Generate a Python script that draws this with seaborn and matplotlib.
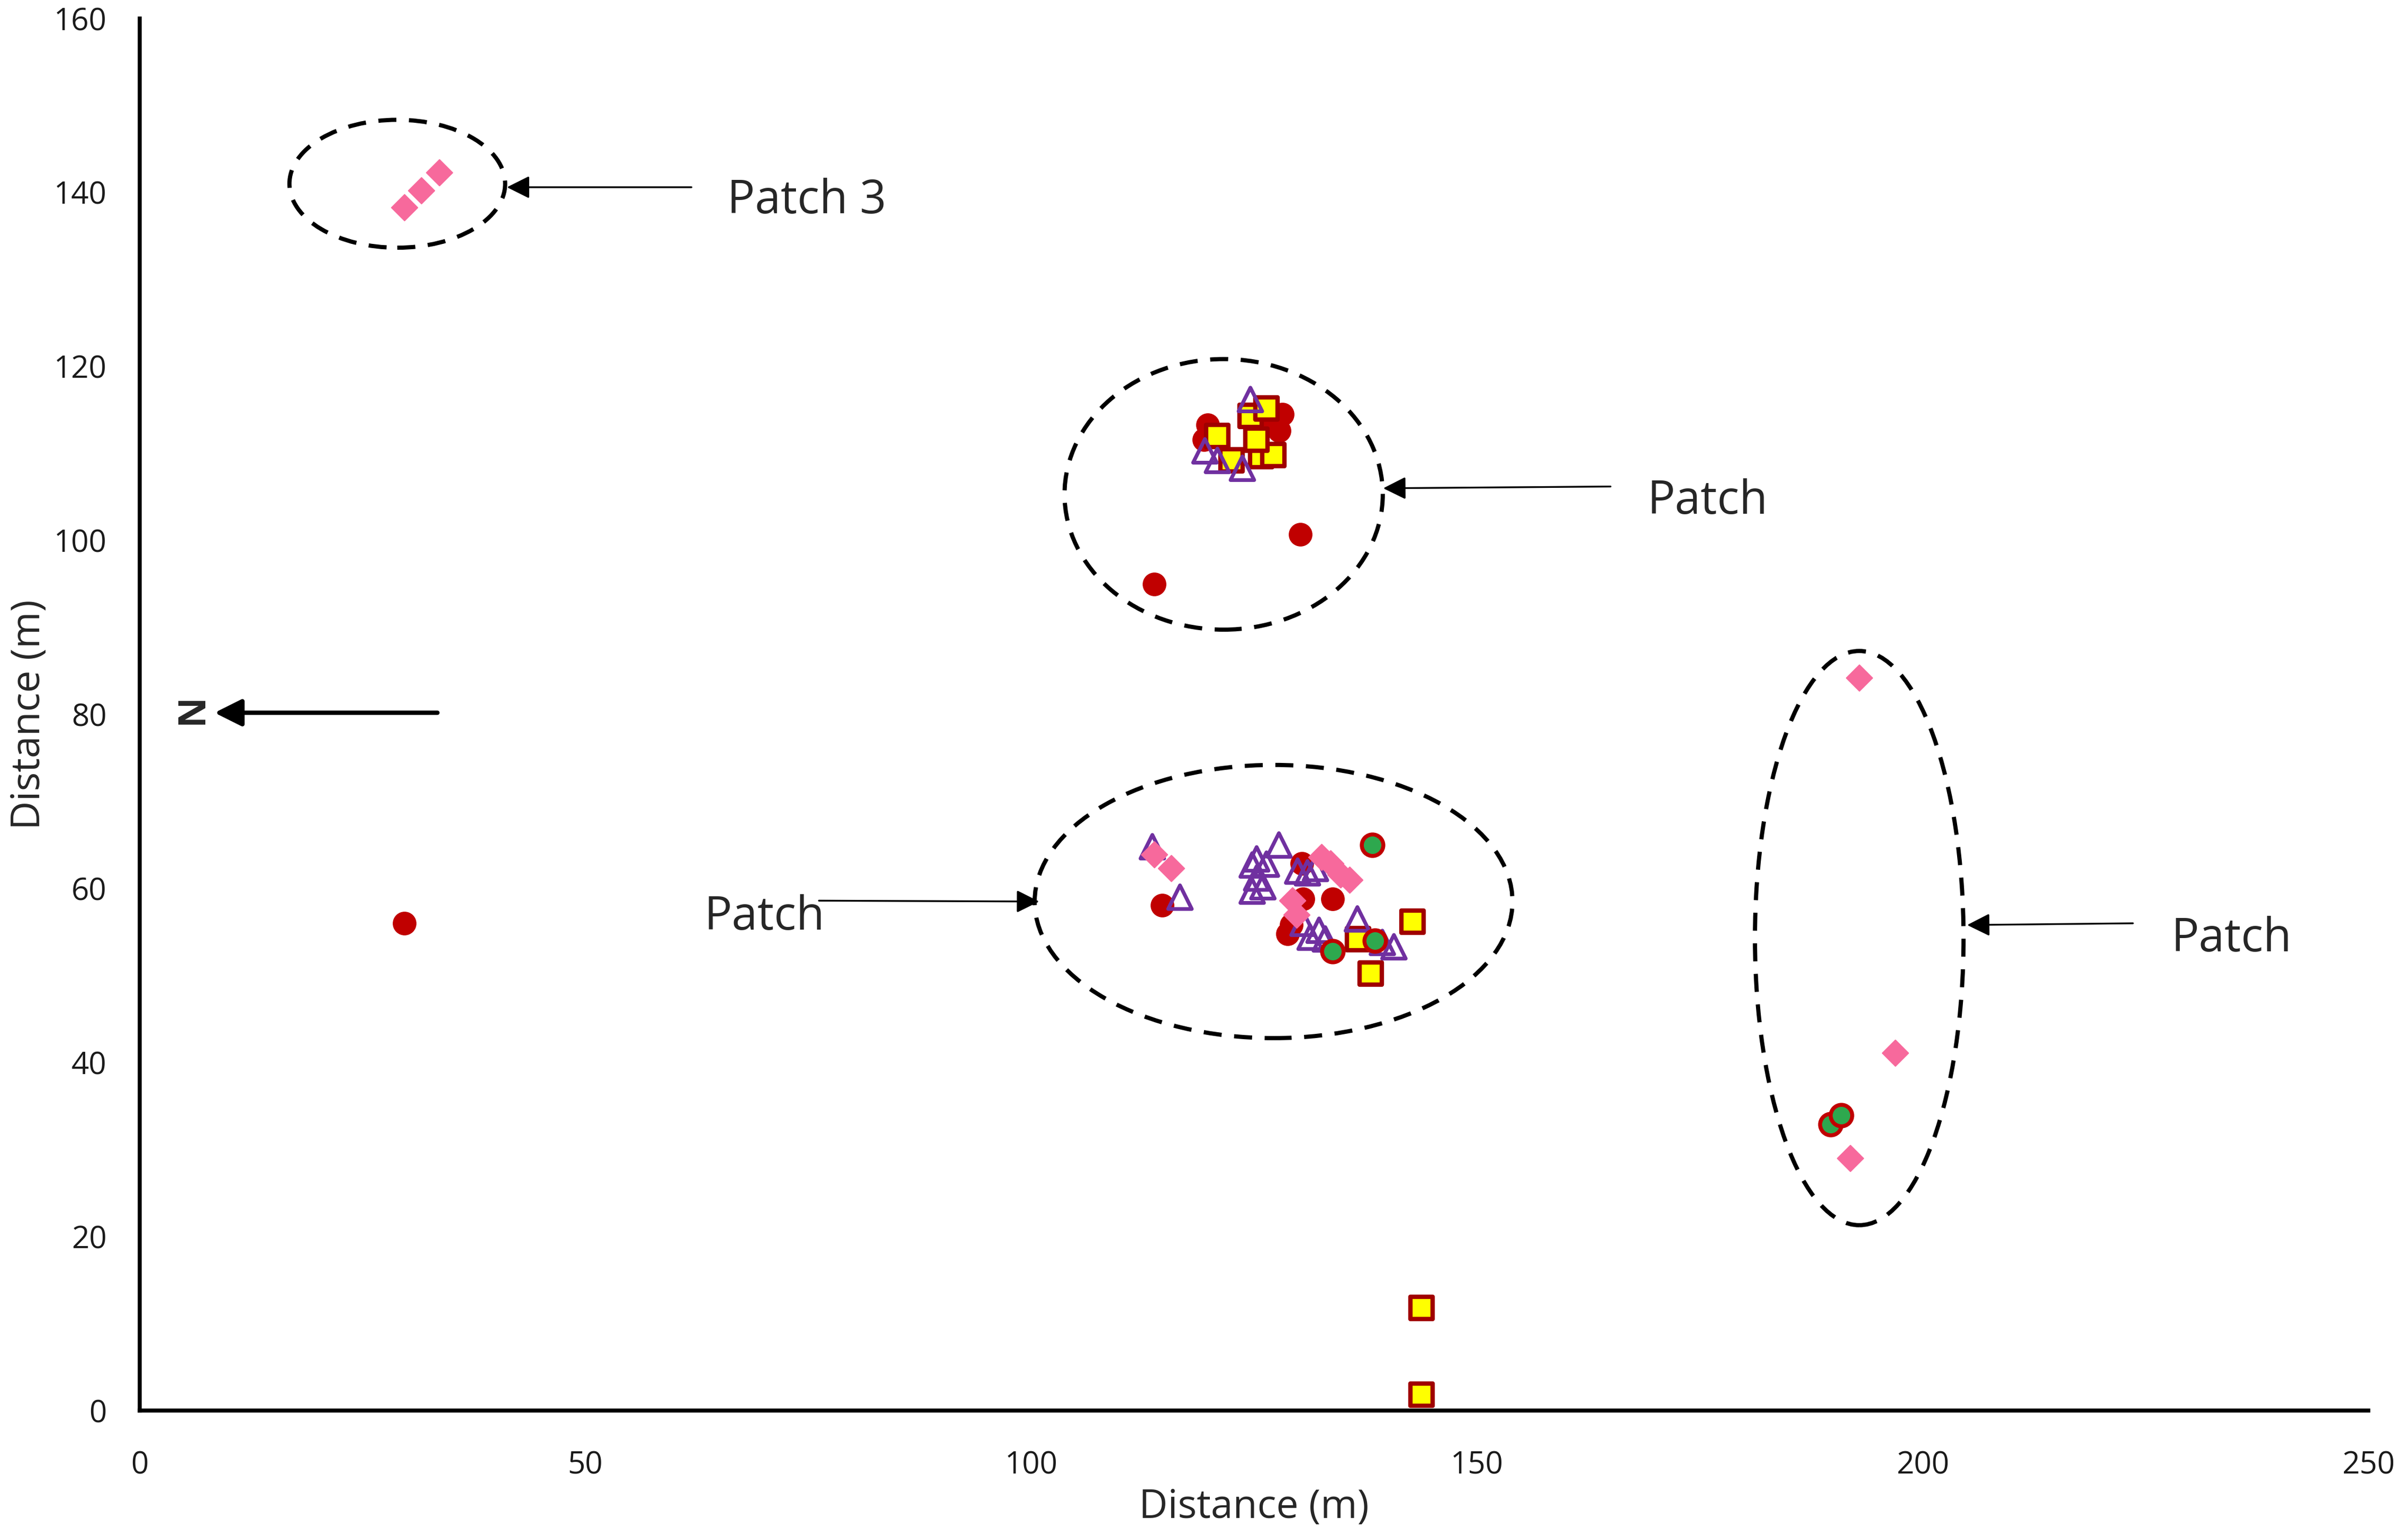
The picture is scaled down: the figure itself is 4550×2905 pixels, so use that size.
import numpy as np
import pandas as pd
import matplotlib
matplotlib.use("Agg")
import matplotlib.pyplot as plt
from matplotlib.patches import Ellipse
import seaborn as sns

# point positions (m)
red_x = [29.7, 113.8, 130.2, 119.8, 119.4, 128.2, 127.8, 127.0, 114.7, 130.5, 133.8, 128.8, 130.4, 129.2]
red_y = [56.0, 95.0, 100.7, 113.3, 111.6, 114.5, 112.6, 113.8, 58.1, 58.8, 58.8, 54.8, 62.9, 55.8]

sq_x = [124.6, 126.4, 120.9, 122.5, 125.8, 127.2, 125.3, 143.8, 143.8, 136.7, 142.8, 138.1]
sq_y = [114.3, 115.2, 112.0, 109.2, 109.7, 109.8, 111.6, 11.8, 1.8, 54.2, 56.2, 50.2]

tri_x = [124.6, 119.5, 120.9, 123.7, 113.6, 116.7, 124.8, 125.3, 124.8, 126.0, 126.4, 127.8,
         129.9, 131.0, 131.9, 130.5, 131.3, 132.3, 133.0, 136.6, 139.4, 140.7, 125.3]
tri_y = [116.2, 110.3, 109.2, 108.3, 64.8, 59.0, 62.7, 61.2, 59.7, 60.2, 62.8, 65.0,
         62.0, 61.8, 62.3, 56.0, 54.4, 55.2, 54.2, 56.5, 53.8, 53.3, 63.4]

dia_x = [29.7, 31.6, 33.6, 113.8, 115.7, 132.6, 133.6, 134.7, 135.7, 129.3, 129.8, 192.9, 196.9, 191.9]
dia_y = [138.3, 140.2, 142.3, 63.9, 62.3, 63.6, 62.9, 61.6, 61.0, 58.6, 57.0, 84.2, 41.1, 29.0]

grn_x = [138.3, 133.8, 138.6, 189.7, 190.9]
grn_y = [65.0, 52.8, 54.0, 32.9, 33.9]

# patches: centre x, centre y, width, height
patch_cx = [28.9, 121.6, 127.2, 192.9]
patch_cy = [141.0, 105.3, 58.5, 54.3]
patch_w = [24.2, 35.7, 53.6, 23.4]
patch_h = [14.7, 31.1, 31.4, 66.0]

labels = ["Patch 3", "Patch", "Patch", "Patch"]

sns.set_style("white")
plt.rcParams["font.family"] = ["Open Sans", "DejaVu Sans"]

fig = plt.figure(figsize=(4550 / 300, 2905 / 300), dpi=300)
ax = fig.add_axes([0.058, 0.0823, 0.9255, 0.9057])

sns.scatterplot(x=red_x, y=red_y, marker="o", color="#C00000", edgecolor="#C00000",
                s=105, linewidth=0.5, ax=ax, zorder=3)
sns.scatterplot(x=sq_x, y=sq_y, marker="s", color="#FFFF00", edgecolor="#A00000",
                s=100, linewidth=2.0, ax=ax, zorder=4)
sns.scatterplot(x=tri_x, y=tri_y, marker="^", facecolor="none", edgecolor="#7030A0",
                s=115, linewidth=1.7, ax=ax, zorder=5)
sns.scatterplot(x=dia_x, y=dia_y, marker="D", color="#F7699C", edgecolor="#F7699C",
                s=70, linewidth=0.5, ax=ax, zorder=6)
sns.scatterplot(x=grn_x, y=grn_y, marker="o", color="#2EA84E", edgecolor="#C00000",
                s=95, linewidth=1.8, ax=ax, zorder=7)

for cx, cy, w, h in zip(patch_cx, patch_cy, patch_w, patch_h):
    ax.add_patch(Ellipse((cx, cy), w, h, fill=False, edgecolor="black",
                         linewidth=1.9, linestyle=(0, (4.3, 3.0)), zorder=2))

# arrows and labels
arr = dict(arrowstyle="-|>", color="black", lw=0.8, mutation_scale=22, shrinkA=0, shrinkB=0)
ax.annotate("", xy=(41.2, 140.6), xytext=(61.9, 140.6), arrowprops=arr)
ax.annotate("", xy=(139.5, 106.0), xytext=(165.0, 106.2), arrowprops=arr)
ax.annotate("", xy=(100.9, 58.5), xytext=(76.2, 58.6), arrowprops=arr)
ax.annotate("", xy=(205.0, 55.8), xytext=(223.6, 56.0), arrowprops=arr)

ax.text(65.9, 139.0, labels[0], fontsize=21, va="center", ha="left")
ax.text(169.1, 104.5, labels[1], fontsize=21, va="center", ha="left")
ax.text(63.3, 56.7, labels[2], fontsize=21, va="center", ha="left")
ax.text(227.9, 54.2, labels[3], fontsize=21, va="center", ha="left")

ax.annotate("", xy=(8.4, 80.2), xytext=(33.4, 80.2),
            arrowprops=dict(arrowstyle="-|>", color="black", lw=2.0, mutation_scale=26,
                            shrinkA=0, shrinkB=0))
ax.text(5.9, 80.6, "N", fontsize=17, fontweight="bold", rotation=90, va="center", ha="center")

ax.set_xlim(0, 250)
ax.set_ylim(0, 160)
ax.set_xticks(np.arange(0, 251, 50))
ax.set_yticks(np.arange(0, 161, 20))
ax.tick_params(direction="in", length=4, width=1.0, labelsize=14, colors="black",
               labelcolor="#1a1a1a")
ax.tick_params(axis="x", pad=18)
ax.tick_params(axis="y", pad=15)
for side in ["top", "right"]:
    ax.spines[side].set_visible(False)
for side in ["left", "bottom"]:
    ax.spines[side].set_linewidth(1.8)
    ax.spines[side].set_color("black")

ax.set_xlabel("Distance (m)", fontsize=18, labelpad=3)
ax.set_ylabel("Distance (m)", fontsize=18, labelpad=2)

fig.savefig("out.png", dpi=300)
